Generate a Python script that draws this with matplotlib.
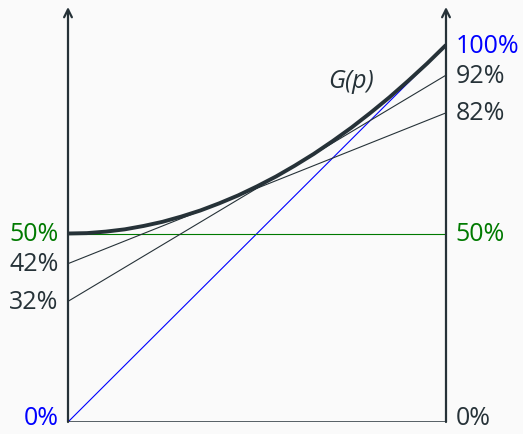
import matplotlib
matplotlib.use("Agg")
import matplotlib.pyplot as plt

# Curve G(p)
p_vals = [0.0, 0.05, 0.1, 0.15, 0.2, 0.25, 0.3, 0.35, 0.4, 0.45, 0.5,
          0.55, 0.6, 0.65, 0.7, 0.75, 0.8, 0.85, 0.9, 0.95, 1.0]
g_vals = [0.5, 0.501, 0.505, 0.511, 0.52, 0.531, 0.545, 0.561, 0.58, 0.601, 0.625,
          0.651, 0.68, 0.711, 0.745, 0.781, 0.82, 0.861, 0.905, 0.951, 1.0]

# Straight lines: (left value, right value, colour)
lines_left = [0.0, 0.5, 0.42, 0.32]
lines_right = [1.0, 0.5, 0.82, 0.92]
line_colors = ["#0000ff", "#007a00", "#263238", "#263238"]

left_labels = ["0%", "50%", "42%", "32%"]
left_label_vals = [0.0, 0.5, 0.42, 0.32]
left_label_colors = ["#0000ff", "#007a00", "#263238", "#263238"]
right_labels = ["0%", "50%", "82%", "92%", "100%"]
right_label_vals = [0.0, 0.5, 0.82, 0.92, 1.0]
right_label_colors = ["#263238", "#007a00", "#263238", "#263238", "#0000ff"]

dark = "#263238"
bg = "#fafafa"

fig = plt.figure(figsize=(5.23, 4.35), dpi=100, facecolor=bg)
ax = fig.add_axes([68/523, 12/435, 378/523, (423-8)/435])
ax.set_facecolor(bg)
ax.set_xlim(0, 1)
ax.set_ylim(0, (423-8)/377)
ax.axis("off")

for l, r, c in zip(lines_left, lines_right, line_colors):
    ax.plot([0, 1], [l, r], color=c, lw=0.8, solid_capstyle="butt", zorder=2)

ax.plot(p_vals, g_vals, color=dark, lw=2.8, solid_capstyle="butt", zorder=3)

# axes lines
top = (423-8)/377
for x in [0, 1]:
    ax.annotate("", xy=(x, top), xytext=(x, 0),
                arrowprops=dict(arrowstyle="->", color=dark, lw=1.6,
                                mutation_scale=14, shrinkA=0, shrinkB=0),
                annotation_clip=False, zorder=4)
ax.plot([0, 1], [0, 0], color=dark, lw=1.8, solid_capstyle="projecting", zorder=4)

fs = 18
font = "Open Sans"
for t, v, c in zip(left_labels, left_label_vals, left_label_colors):
    y = v if v > 0 else 0.012
    ax.text(-0.025, y, t, ha="right", va="center", color=c, fontsize=fs, family=font)
for t, v, c in zip(right_labels, right_label_vals, right_label_colors):
    y = v if v > 0 else 0.012
    ax.text(1.025, y, t, ha="left", va="center", color=c, fontsize=fs, family=font)

ax.text(0.75, 0.905, "G(p)", ha="center", va="center", color=dark, fontsize=fs,
        family=font, style="italic")

fig.savefig("out.png", dpi=100, facecolor=bg)
